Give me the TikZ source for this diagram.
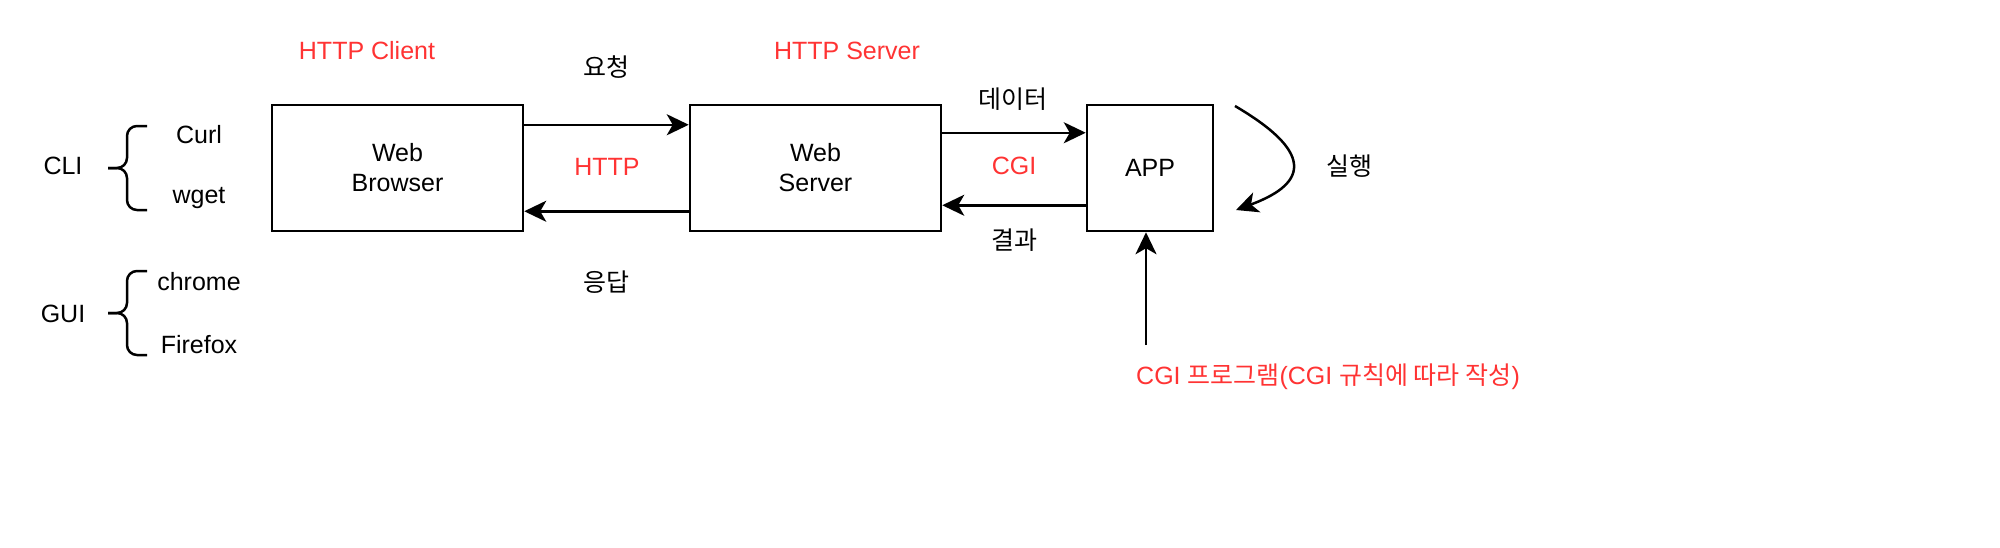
\documentclass[tikz,border=0pt]{standalone}
\usepackage{fontspec}
\setmainfont{Liberation Sans}
\newfontfamily\cjk{Noto Sans CJK KR}
\usetikzlibrary{arrows.meta,calc}
\definecolor{redtxt}{HTML}{FF3333}
\begin{document}
\begin{tikzpicture}[x=0.5pt,y=-0.5pt,
  every node/.style={font=\fontsize{12.5}{15}\selectfont, inner sep=0pt},
  box/.style={draw, line width=1.25pt, minimum width=125.5pt, minimum height=63pt, align=center},
  appbox/.style={draw, line width=1.25pt, minimum width=63pt, minimum height=63pt, align=center},
  arr/.style={line width=1.25pt, -{Stealth[length=11pt,width=10.5pt,inset=3pt]}},
  brace/.style={line width=1.25pt, rounded corners=5pt},
  redlabel/.style={text=redtxt}]
\useasboundingbox (0,0) rectangle (2000,547);
\node[box] (browser) at (397.5,168) {Web\\Browser};
\node[box] (server) at (815.5,168) {Web\\Server};
\node[appbox] (app) at (1150,168) {APP};

\node[redlabel] (hclient) at (367,51) {HTTP Client};
\node[redlabel] (hserver) at (847,51) {HTTP Server};
\node (req) at (606,67) {\cjk 요청};
\node (resp) at (606,282) {\cjk 응답};
\node[redlabel] (http) at (607,167) {HTTP};
\node (data) at (1013,99) {\cjk 데이터};
\node[redlabel] (cgi) at (1014,166) {CGI};
\node (result) at (1014,240) {\cjk 결과};
\node (exec) at (1349,166) {\cjk 실행};
\node[redlabel] (cgiprog) at (1328,377) {CGI {\cjk 프로그램}(CGI {\cjk 규칙에 따라 작성})};

\draw[arr] ($(browser.north east)+(0,21)$) -- ($(server.north west)+(0,21)$);
\draw[arr] ($(server.south west)+(0,-21)$) -- ($(browser.south east)+(0,-21)$);
\draw[arr] ($(server.north east)+(0,29)$) -- ($(app.north west)+(0,29)$);
\draw[arr] ($(app.south west)+(0,-27)$) -- ($(server.south east)+(0,-27)$);
\coordinate (progtop) at (1146,345);
\draw[arr] (progtop) -- (progtop |- app.south);
\coordinate (loopstart) at (1235,106);
\coordinate (loopend) at (1236,210);
\draw[arr] (loopstart) .. controls (1310,150) and (1312,182) .. (loopend);

% CLI group
\node (cli) at (63,166) {CLI};
\node (curl) at (199,135) {Curl};
\node (wget) at (199,198) {wget};
\coordinate (cliS) at (108,168);
\draw[brace] (147,126) -- (127,126) -- (127,168) -- (cliS);
\draw[brace] (147,210) -- (127,210) -- (127,168) -- (cliS);

% GUI group
\node (gui) at (63,314) {GUI};
\node (chrome) at (199,282) {chrome};
\node (firefox) at (199,345) {Firefox};
\coordinate (guiS) at (108,313);
\draw[brace] (147,271) -- (127,271) -- (127,313) -- (guiS);
\draw[brace] (147,355) -- (127,355) -- (127,313) -- (guiS);
\end{tikzpicture}
\end{document}
